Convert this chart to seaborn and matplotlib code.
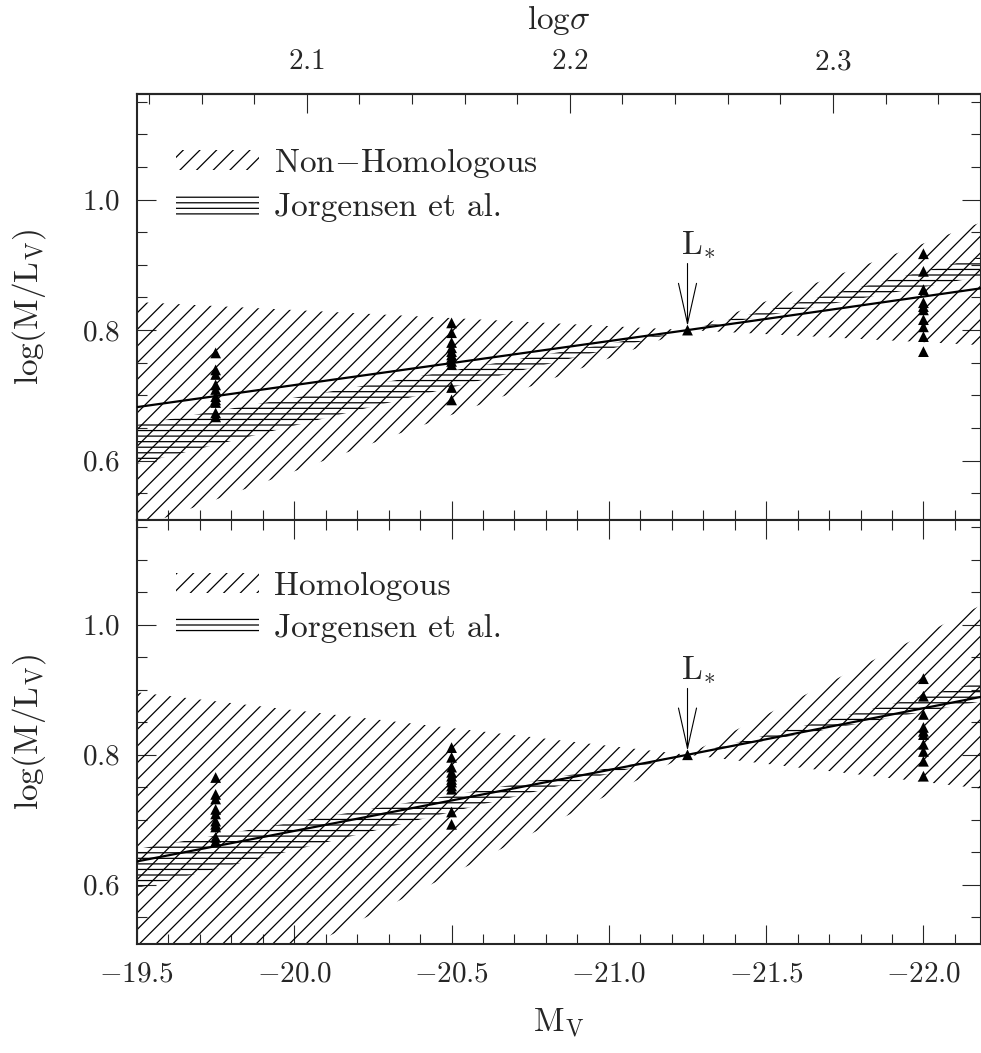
import numpy as np
import pandas as pd
import matplotlib
matplotlib.use("Agg")
import matplotlib.pyplot as plt
from matplotlib.patches import Patch
from matplotlib.ticker import MultipleLocator, FixedLocator
import seaborn as sns

# axis ranges
mv_range = (-19.5, -22.183)
ml_range = (0.509, 1.161)

# L* pivot
mv_star = -21.25
ml_star = 0.80

# band edges (lower / upper) at left edge, L* and right edge
band_mv = [-19.5, -21.25, -22.183]
nonhom_lo = [0.497, 0.80, 0.777]
nonhom_hi = [0.843, 0.80, 0.965]
hom_lo = [0.372, 0.80, 0.748]
hom_hi = [0.896, 0.80, 1.030]
jorg_lo = [0.595, 0.80, 0.882]
jorg_hi = [0.655, 0.80, 0.912]

# solid fit lines
fit_mv = [-19.5, -21.25, -22.183]
fit_nonhom = [0.682, 0.80, 0.864]
fit_hom = [0.636, 0.80, 0.889]

# galaxies (triangles)
col1_mv, col1 = -19.75, [0.765, 0.739, 0.732, 0.716, 0.709, 0.698, 0.693, 0.689, 0.673, 0.667]
col2_mv, col2 = -20.5, [0.811, 0.796, 0.781, 0.773, 0.767, 0.762, 0.758, 0.752, 0.747, 0.712, 0.693]
col3_mv, col3 = -21.25, [0.80]
col4_mv, col4 = -22.0, [0.917, 0.890, 0.862, 0.842, 0.836, 0.831, 0.816, 0.805, 0.790, 0.767]

sig_ref, mv_ref, sig_slope = 2.1, -20.04, -0.1196
sig_ticks = [2.1, 2.2, 2.3]
sig_minor = [2.04, 2.06, 2.08, 2.12, 2.14, 2.16, 2.18, 2.22, 2.24, 2.26, 2.28, 2.32, 2.34]

pts = pd.DataFrame({
    "mv": [col1_mv] * len(col1) + [col2_mv] * len(col2) + [col3_mv] * len(col3) + [col4_mv] * len(col4),
    "ml": col1 + col2 + col3 + col4,
})

sns.set_theme(style="ticks")
plt.rcParams["font.family"] = ["cmr10", "DejaVu Serif"]
plt.rcParams["mathtext.fontset"] = "cm"
plt.rcParams["axes.formatter.use_mathtext"] = True
plt.rcParams["hatch.linewidth"] = 0.9
plt.rcParams["hatch.color"] = "black"

fig = plt.figure(figsize=(9.81, 10.53), dpi=100)
W, H = 981, 1053
ax_top = fig.add_axes([137 / W, (H - 520) / H, 844 / W, 425.5 / H])
ax_bot = fig.add_axes([137 / W, (H - 944) / H, 844 / W, 424 / H])

def fwd(m):
    return sig_ref + sig_slope * (np.asarray(m) - mv_ref)

def inv(s):
    return mv_ref + (np.asarray(s) - sig_ref) / sig_slope

panels = [(ax_top, nonhom_lo, nonhom_hi, fit_nonhom, r"Non$-$Homologous"),
          (ax_bot, hom_lo, hom_hi, fit_hom, "Homologous")]

for ax, lo, hi, fit, name in panels:
    ax.fill_between(band_mv, lo, hi, facecolor="none", edgecolor="black",
                    hatch="//", linewidth=0, zorder=1)
    ax.fill_between(band_mv, jorg_lo, jorg_hi, facecolor="none", edgecolor="black",
                    hatch="---", linewidth=0, zorder=2)
    sns.lineplot(x=fit_mv, y=fit, ax=ax, color="black", lw=1.6, zorder=3)
    sns.scatterplot(data=pts, x="mv", y="ml", ax=ax, marker="^", s=60,
                    color="black", edgecolor="none", zorder=4)
    ax.annotate("", xy=(mv_star, 0.806), xytext=(mv_star, 0.902),
                arrowprops=dict(arrowstyle="->,head_length=2.9,head_width=0.65",
                                mutation_scale=10, lw=0.8, color="black",
                                shrinkA=0, shrinkB=0), zorder=5)
    ax.text(mv_star - 0.035, 0.917, r"$\mathrm{L}_{*}$", ha="center", va="baseline", fontsize=24)

    handles = [Patch(facecolor="none", edgecolor="black", hatch="//", lw=0, label=name),
               Patch(facecolor="none", edgecolor="black", hatch="---", lw=0,
                     label="Jorgensen et al.")]
    ax.legend(handles=handles, loc="upper left", bbox_to_anchor=(0.03, 0.91),
              frameon=False, fontsize=24, handlelength=2.5, handleheight=0.55,
              handletextpad=0.45, labelspacing=0.4, borderaxespad=0)

    ax.set_xlim(*mv_range)
    ax.set_ylim(*ml_range)
    ax.xaxis.set_major_locator(MultipleLocator(0.5))
    ax.xaxis.set_minor_locator(MultipleLocator(0.1))
    ax.yaxis.set_major_locator(MultipleLocator(0.2))
    ax.yaxis.set_minor_locator(MultipleLocator(0.05))
    ax.tick_params(which="both", direction="in", right=True, top=(ax is ax_bot),
                   width=0.8, labelsize=21, pad=12)
    ax.tick_params(which="major", length=14)
    ax.tick_params(which="minor", length=7)
    for sp in ax.spines.values():
        sp.set_linewidth(1.5)
    ax.set_ylabel(r"log(M/L$_{\rm V}$)", fontsize=24)
    ax.yaxis.set_label_coords(-0.105, 0.5)

ax_top.tick_params(labelbottom=False)
ax_top.set_xlabel("")
ax_bot.set_xlabel(r"M$_{\rm V}$", fontsize=24, labelpad=14)

sec = ax_top.secondary_xaxis("top", functions=(fwd, inv))
sec.xaxis.set_major_locator(FixedLocator(sig_ticks))
sec.xaxis.set_minor_locator(FixedLocator(sig_minor))
sec.tick_params(which="both", direction="in", width=0.8, labelsize=21, pad=14)
sec.tick_params(which="major", length=14)
sec.tick_params(which="minor", length=7)
sec.spines["top"].set_linewidth(1.5)
sec.set_xlabel(r"log$\sigma$", fontsize=24, labelpad=14)

fig.savefig("out.png", dpi=100)
